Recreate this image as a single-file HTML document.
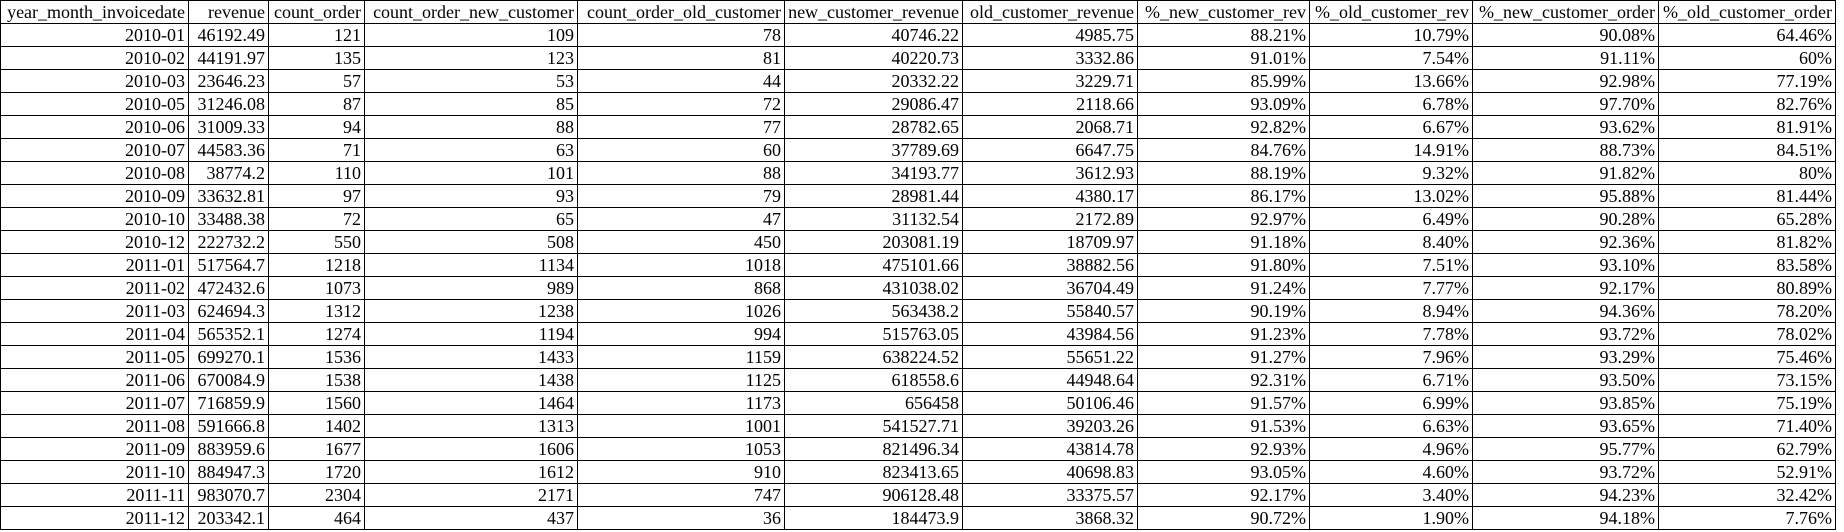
<!DOCTYPE html>
<html><head><meta charset="utf-8"><style>
html,body{margin:0;padding:0;background:#fff;width:1844px;height:532px;overflow:hidden}
table{border-collapse:collapse;table-layout:fixed;position:absolute;left:0;top:0;font-family:"Liberation Serif",serif;font-size:18px;color:#000}
td,th{border:1px solid #000;height:22px;padding:0 3px;line-height:22px;white-space:nowrap;overflow:hidden;font-weight:normal}
th{text-align:right}
td{text-align:right}
</style></head><body>
<table>
<colgroup><col style="width:188px"><col style="width:80px"><col style="width:96px"><col style="width:213px"><col style="width:207px"><col style="width:178px"><col style="width:175px"><col style="width:172px"><col style="width:163px"><col style="width:186px"><col style="width:177px"></colgroup>
<thead><tr><th>year_month_invoicedate</th><th>revenue</th><th>count_order</th><th>count_order_new_customer</th><th>count_order_old_customer</th><th>new_customer_revenue</th><th>old_customer_revenue</th><th>%_new_customer_rev</th><th>%_old_customer_rev</th><th>%_new_customer_order</th><th>%_old_customer_order</th></tr></thead>
<tbody>
<tr><td>2010-01</td><td>46192.49</td><td>121</td><td>109</td><td>78</td><td>40746.22</td><td>4985.75</td><td>88.21%</td><td>10.79%</td><td>90.08%</td><td>64.46%</td></tr>
<tr><td>2010-02</td><td>44191.97</td><td>135</td><td>123</td><td>81</td><td>40220.73</td><td>3332.86</td><td>91.01%</td><td>7.54%</td><td>91.11%</td><td>60%</td></tr>
<tr><td>2010-03</td><td>23646.23</td><td>57</td><td>53</td><td>44</td><td>20332.22</td><td>3229.71</td><td>85.99%</td><td>13.66%</td><td>92.98%</td><td>77.19%</td></tr>
<tr><td>2010-05</td><td>31246.08</td><td>87</td><td>85</td><td>72</td><td>29086.47</td><td>2118.66</td><td>93.09%</td><td>6.78%</td><td>97.70%</td><td>82.76%</td></tr>
<tr><td>2010-06</td><td>31009.33</td><td>94</td><td>88</td><td>77</td><td>28782.65</td><td>2068.71</td><td>92.82%</td><td>6.67%</td><td>93.62%</td><td>81.91%</td></tr>
<tr><td>2010-07</td><td>44583.36</td><td>71</td><td>63</td><td>60</td><td>37789.69</td><td>6647.75</td><td>84.76%</td><td>14.91%</td><td>88.73%</td><td>84.51%</td></tr>
<tr><td>2010-08</td><td>38774.2</td><td>110</td><td>101</td><td>88</td><td>34193.77</td><td>3612.93</td><td>88.19%</td><td>9.32%</td><td>91.82%</td><td>80%</td></tr>
<tr><td>2010-09</td><td>33632.81</td><td>97</td><td>93</td><td>79</td><td>28981.44</td><td>4380.17</td><td>86.17%</td><td>13.02%</td><td>95.88%</td><td>81.44%</td></tr>
<tr><td>2010-10</td><td>33488.38</td><td>72</td><td>65</td><td>47</td><td>31132.54</td><td>2172.89</td><td>92.97%</td><td>6.49%</td><td>90.28%</td><td>65.28%</td></tr>
<tr><td>2010-12</td><td>222732.2</td><td>550</td><td>508</td><td>450</td><td>203081.19</td><td>18709.97</td><td>91.18%</td><td>8.40%</td><td>92.36%</td><td>81.82%</td></tr>
<tr><td>2011-01</td><td>517564.7</td><td>1218</td><td>1134</td><td>1018</td><td>475101.66</td><td>38882.56</td><td>91.80%</td><td>7.51%</td><td>93.10%</td><td>83.58%</td></tr>
<tr><td>2011-02</td><td>472432.6</td><td>1073</td><td>989</td><td>868</td><td>431038.02</td><td>36704.49</td><td>91.24%</td><td>7.77%</td><td>92.17%</td><td>80.89%</td></tr>
<tr><td>2011-03</td><td>624694.3</td><td>1312</td><td>1238</td><td>1026</td><td>563438.2</td><td>55840.57</td><td>90.19%</td><td>8.94%</td><td>94.36%</td><td>78.20%</td></tr>
<tr><td>2011-04</td><td>565352.1</td><td>1274</td><td>1194</td><td>994</td><td>515763.05</td><td>43984.56</td><td>91.23%</td><td>7.78%</td><td>93.72%</td><td>78.02%</td></tr>
<tr><td>2011-05</td><td>699270.1</td><td>1536</td><td>1433</td><td>1159</td><td>638224.52</td><td>55651.22</td><td>91.27%</td><td>7.96%</td><td>93.29%</td><td>75.46%</td></tr>
<tr><td>2011-06</td><td>670084.9</td><td>1538</td><td>1438</td><td>1125</td><td>618558.6</td><td>44948.64</td><td>92.31%</td><td>6.71%</td><td>93.50%</td><td>73.15%</td></tr>
<tr><td>2011-07</td><td>716859.9</td><td>1560</td><td>1464</td><td>1173</td><td>656458</td><td>50106.46</td><td>91.57%</td><td>6.99%</td><td>93.85%</td><td>75.19%</td></tr>
<tr><td>2011-08</td><td>591666.8</td><td>1402</td><td>1313</td><td>1001</td><td>541527.71</td><td>39203.26</td><td>91.53%</td><td>6.63%</td><td>93.65%</td><td>71.40%</td></tr>
<tr><td>2011-09</td><td>883959.6</td><td>1677</td><td>1606</td><td>1053</td><td>821496.34</td><td>43814.78</td><td>92.93%</td><td>4.96%</td><td>95.77%</td><td>62.79%</td></tr>
<tr><td>2011-10</td><td>884947.3</td><td>1720</td><td>1612</td><td>910</td><td>823413.65</td><td>40698.83</td><td>93.05%</td><td>4.60%</td><td>93.72%</td><td>52.91%</td></tr>
<tr><td>2011-11</td><td>983070.7</td><td>2304</td><td>2171</td><td>747</td><td>906128.48</td><td>33375.57</td><td>92.17%</td><td>3.40%</td><td>94.23%</td><td>32.42%</td></tr>
<tr><td>2011-12</td><td>203342.1</td><td>464</td><td>437</td><td>36</td><td>184473.9</td><td>3868.32</td><td>90.72%</td><td>1.90%</td><td>94.18%</td><td>7.76%</td></tr>
</tbody></table>
</body></html>
